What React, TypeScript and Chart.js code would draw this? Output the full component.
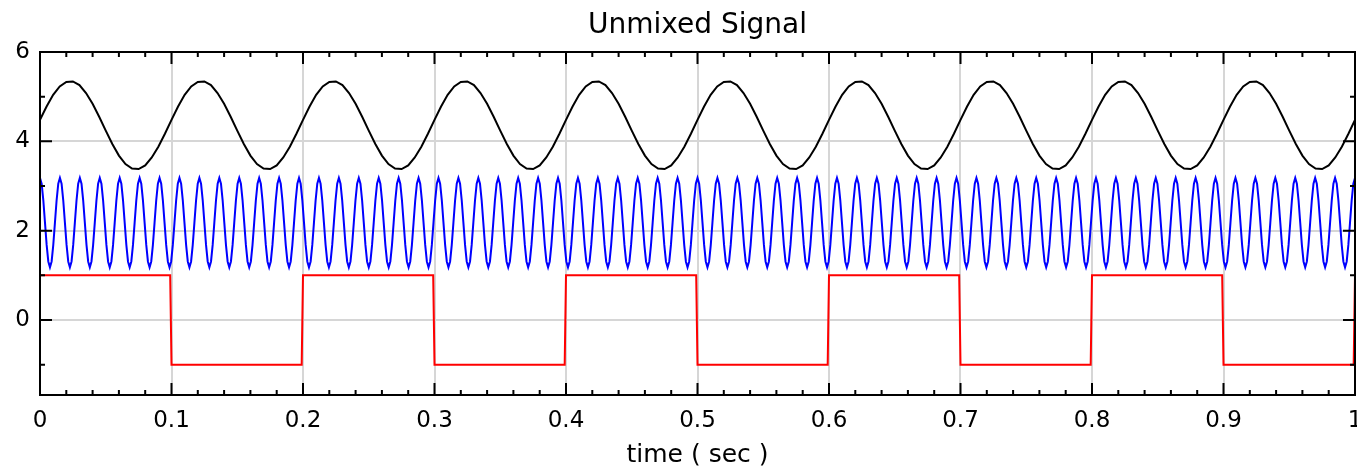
import React, { useEffect, useRef } from "react";
import { Chart, registerables } from "chart.js";

Chart.register(...registerables);

// ---------- text ----------
const chartTitle = "Unmixed Signal";
const xAxisTitle = "time ( sec )";

// ---------- axes ----------
const xMin = 0;
const xMax = 1;
const yMin = -1.68;
const yMax = 6;
const xTickValues = [0, 0.1, 0.2, 0.3, 0.4, 0.5, 0.6, 0.7, 0.8, 0.9, 1];
const xTickLabels = ["0", "0.1", "0.2", "0.3", "0.4", "0.5", "0.6", "0.7", "0.8", "0.9", "1"];
const xMinorPerMajor = 5;
const yTickValues = [0, 2, 4, 6];
const yTickLabels = ["0", "2", "4", "6"];
const yMinorTickValues = [-1, 1, 3, 5];

// ---------- series: black (slow sine), sample step in seconds ----------
const blackStep = 0.005;
const blackValues = [
  4.48, 4.78, 5.04, 5.23, 5.33, 5.34, 5.26, 5.08, 4.84, 4.55, 4.24, 3.94, 3.68, 3.49, 3.39, 3.38, 3.46, 3.64, 3.88, 4.17,
  4.48, 4.78, 5.04, 5.23, 5.33, 5.34, 5.26, 5.08, 4.84, 4.55, 4.24, 3.94, 3.68, 3.49, 3.39, 3.38, 3.46, 3.64, 3.88, 4.17,
  4.48, 4.78, 5.04, 5.23, 5.33, 5.34, 5.26, 5.08, 4.84, 4.55, 4.24, 3.94, 3.68, 3.49, 3.39, 3.38, 3.46, 3.64, 3.88, 4.17,
  4.48, 4.78, 5.04, 5.23, 5.33, 5.34, 5.26, 5.08, 4.84, 4.55, 4.24, 3.94, 3.68, 3.49, 3.39, 3.38, 3.46, 3.64, 3.88, 4.17,
  4.48, 4.78, 5.04, 5.23, 5.33, 5.34, 5.26, 5.08, 4.84, 4.55, 4.24, 3.94, 3.68, 3.49, 3.39, 3.38, 3.46, 3.64, 3.88, 4.17,
  4.48, 4.78, 5.04, 5.23, 5.33, 5.34, 5.26, 5.08, 4.84, 4.55, 4.24, 3.94, 3.68, 3.49, 3.39, 3.38, 3.46, 3.64, 3.88, 4.17,
  4.48, 4.78, 5.04, 5.23, 5.33, 5.34, 5.26, 5.08, 4.84, 4.55, 4.24, 3.94, 3.68, 3.49, 3.39, 3.38, 3.46, 3.64, 3.88, 4.17,
  4.48, 4.78, 5.04, 5.23, 5.33, 5.34, 5.26, 5.08, 4.84, 4.55, 4.24, 3.94, 3.68, 3.49, 3.39, 3.38, 3.46, 3.64, 3.88, 4.17,
  4.48, 4.78, 5.04, 5.23, 5.33, 5.34, 5.26, 5.08, 4.84, 4.55, 4.24, 3.94, 3.68, 3.49, 3.39, 3.38, 3.46, 3.64, 3.88, 4.17,
  4.48, 4.78, 5.04, 5.23, 5.33, 5.34, 5.26, 5.08, 4.84, 4.55, 4.24, 3.94, 3.68, 3.49, 3.39, 3.38, 3.46, 3.64, 3.88, 4.17,
  4.48,
];

// ---------- series: blue (fast sine, 66 Hz), sample step in seconds ----------
// 11 rows x 6 cycles x 12 samples + closing sample
const blueStep = 1 / 792;
const blueValues = [
  /* 1 */ 3.18, 3.05, 2.68, 2.18, 1.68, 1.31, 1.18, 1.31, 1.68, 2.18, 2.68, 3.05, 3.18, 3.05, 2.68, 2.18, 1.68, 1.31, 1.18, 1.31, 1.68, 2.18, 2.68, 3.05, 3.18, 3.05, 2.68, 2.18, 1.68, 1.31, 1.18, 1.31, 1.68, 2.18, 2.68, 3.05, 3.18, 3.05, 2.68, 2.18, 1.68, 1.31, 1.18, 1.31, 1.68, 2.18, 2.68, 3.05, 3.18, 3.05, 2.68, 2.18, 1.68, 1.31, 1.18, 1.31, 1.68, 2.18, 2.68, 3.05, 3.18, 3.05, 2.68, 2.18, 1.68, 1.31, 1.18, 1.31, 1.68, 2.18, 2.68, 3.05,
  /* 2 */ 3.18, 3.05, 2.68, 2.18, 1.68, 1.31, 1.18, 1.31, 1.68, 2.18, 2.68, 3.05, 3.18, 3.05, 2.68, 2.18, 1.68, 1.31, 1.18, 1.31, 1.68, 2.18, 2.68, 3.05, 3.18, 3.05, 2.68, 2.18, 1.68, 1.31, 1.18, 1.31, 1.68, 2.18, 2.68, 3.05, 3.18, 3.05, 2.68, 2.18, 1.68, 1.31, 1.18, 1.31, 1.68, 2.18, 2.68, 3.05, 3.18, 3.05, 2.68, 2.18, 1.68, 1.31, 1.18, 1.31, 1.68, 2.18, 2.68, 3.05, 3.18, 3.05, 2.68, 2.18, 1.68, 1.31, 1.18, 1.31, 1.68, 2.18, 2.68, 3.05,
  /* 3 */ 3.18, 3.05, 2.68, 2.18, 1.68, 1.31, 1.18, 1.31, 1.68, 2.18, 2.68, 3.05, 3.18, 3.05, 2.68, 2.18, 1.68, 1.31, 1.18, 1.31, 1.68, 2.18, 2.68, 3.05, 3.18, 3.05, 2.68, 2.18, 1.68, 1.31, 1.18, 1.31, 1.68, 2.18, 2.68, 3.05, 3.18, 3.05, 2.68, 2.18, 1.68, 1.31, 1.18, 1.31, 1.68, 2.18, 2.68, 3.05, 3.18, 3.05, 2.68, 2.18, 1.68, 1.31, 1.18, 1.31, 1.68, 2.18, 2.68, 3.05, 3.18, 3.05, 2.68, 2.18, 1.68, 1.31, 1.18, 1.31, 1.68, 2.18, 2.68, 3.05,
  /* 4 */ 3.18, 3.05, 2.68, 2.18, 1.68, 1.31, 1.18, 1.31, 1.68, 2.18, 2.68, 3.05, 3.18, 3.05, 2.68, 2.18, 1.68, 1.31, 1.18, 1.31, 1.68, 2.18, 2.68, 3.05, 3.18, 3.05, 2.68, 2.18, 1.68, 1.31, 1.18, 1.31, 1.68, 2.18, 2.68, 3.05, 3.18, 3.05, 2.68, 2.18, 1.68, 1.31, 1.18, 1.31, 1.68, 2.18, 2.68, 3.05, 3.18, 3.05, 2.68, 2.18, 1.68, 1.31, 1.18, 1.31, 1.68, 2.18, 2.68, 3.05, 3.18, 3.05, 2.68, 2.18, 1.68, 1.31, 1.18, 1.31, 1.68, 2.18, 2.68, 3.05,
  /* 5 */ 3.18, 3.05, 2.68, 2.18, 1.68, 1.31, 1.18, 1.31, 1.68, 2.18, 2.68, 3.05, 3.18, 3.05, 2.68, 2.18, 1.68, 1.31, 1.18, 1.31, 1.68, 2.18, 2.68, 3.05, 3.18, 3.05, 2.68, 2.18, 1.68, 1.31, 1.18, 1.31, 1.68, 2.18, 2.68, 3.05, 3.18, 3.05, 2.68, 2.18, 1.68, 1.31, 1.18, 1.31, 1.68, 2.18, 2.68, 3.05, 3.18, 3.05, 2.68, 2.18, 1.68, 1.31, 1.18, 1.31, 1.68, 2.18, 2.68, 3.05, 3.18, 3.05, 2.68, 2.18, 1.68, 1.31, 1.18, 1.31, 1.68, 2.18, 2.68, 3.05,
  /* 6 */ 3.18, 3.05, 2.68, 2.18, 1.68, 1.31, 1.18, 1.31, 1.68, 2.18, 2.68, 3.05, 3.18, 3.05, 2.68, 2.18, 1.68, 1.31, 1.18, 1.31, 1.68, 2.18, 2.68, 3.05, 3.18, 3.05, 2.68, 2.18, 1.68, 1.31, 1.18, 1.31, 1.68, 2.18, 2.68, 3.05, 3.18, 3.05, 2.68, 2.18, 1.68, 1.31, 1.18, 1.31, 1.68, 2.18, 2.68, 3.05, 3.18, 3.05, 2.68, 2.18, 1.68, 1.31, 1.18, 1.31, 1.68, 2.18, 2.68, 3.05, 3.18, 3.05, 2.68, 2.18, 1.68, 1.31, 1.18, 1.31, 1.68, 2.18, 2.68, 3.05,
  /* 7 */ 3.18, 3.05, 2.68, 2.18, 1.68, 1.31, 1.18, 1.31, 1.68, 2.18, 2.68, 3.05, 3.18, 3.05, 2.68, 2.18, 1.68, 1.31, 1.18, 1.31, 1.68, 2.18, 2.68, 3.05, 3.18, 3.05, 2.68, 2.18, 1.68, 1.31, 1.18, 1.31, 1.68, 2.18, 2.68, 3.05, 3.18, 3.05, 2.68, 2.18, 1.68, 1.31, 1.18, 1.31, 1.68, 2.18, 2.68, 3.05, 3.18, 3.05, 2.68, 2.18, 1.68, 1.31, 1.18, 1.31, 1.68, 2.18, 2.68, 3.05, 3.18, 3.05, 2.68, 2.18, 1.68, 1.31, 1.18, 1.31, 1.68, 2.18, 2.68, 3.05,
  /* 8 */ 3.18, 3.05, 2.68, 2.18, 1.68, 1.31, 1.18, 1.31, 1.68, 2.18, 2.68, 3.05, 3.18, 3.05, 2.68, 2.18, 1.68, 1.31, 1.18, 1.31, 1.68, 2.18, 2.68, 3.05, 3.18, 3.05, 2.68, 2.18, 1.68, 1.31, 1.18, 1.31, 1.68, 2.18, 2.68, 3.05, 3.18, 3.05, 2.68, 2.18, 1.68, 1.31, 1.18, 1.31, 1.68, 2.18, 2.68, 3.05, 3.18, 3.05, 2.68, 2.18, 1.68, 1.31, 1.18, 1.31, 1.68, 2.18, 2.68, 3.05, 3.18, 3.05, 2.68, 2.18, 1.68, 1.31, 1.18, 1.31, 1.68, 2.18, 2.68, 3.05,
  /* 9 */ 3.18, 3.05, 2.68, 2.18, 1.68, 1.31, 1.18, 1.31, 1.68, 2.18, 2.68, 3.05, 3.18, 3.05, 2.68, 2.18, 1.68, 1.31, 1.18, 1.31, 1.68, 2.18, 2.68, 3.05, 3.18, 3.05, 2.68, 2.18, 1.68, 1.31, 1.18, 1.31, 1.68, 2.18, 2.68, 3.05, 3.18, 3.05, 2.68, 2.18, 1.68, 1.31, 1.18, 1.31, 1.68, 2.18, 2.68, 3.05, 3.18, 3.05, 2.68, 2.18, 1.68, 1.31, 1.18, 1.31, 1.68, 2.18, 2.68, 3.05, 3.18, 3.05, 2.68, 2.18, 1.68, 1.31, 1.18, 1.31, 1.68, 2.18, 2.68, 3.05,
  /* 10 */ 3.18, 3.05, 2.68, 2.18, 1.68, 1.31, 1.18, 1.31, 1.68, 2.18, 2.68, 3.05, 3.18, 3.05, 2.68, 2.18, 1.68, 1.31, 1.18, 1.31, 1.68, 2.18, 2.68, 3.05, 3.18, 3.05, 2.68, 2.18, 1.68, 1.31, 1.18, 1.31, 1.68, 2.18, 2.68, 3.05, 3.18, 3.05, 2.68, 2.18, 1.68, 1.31, 1.18, 1.31, 1.68, 2.18, 2.68, 3.05, 3.18, 3.05, 2.68, 2.18, 1.68, 1.31, 1.18, 1.31, 1.68, 2.18, 2.68, 3.05, 3.18, 3.05, 2.68, 2.18, 1.68, 1.31, 1.18, 1.31, 1.68, 2.18, 2.68, 3.05,
  /* 11 */ 3.18, 3.05, 2.68, 2.18, 1.68, 1.31, 1.18, 1.31, 1.68, 2.18, 2.68, 3.05, 3.18, 3.05, 2.68, 2.18, 1.68, 1.31, 1.18, 1.31, 1.68, 2.18, 2.68, 3.05, 3.18, 3.05, 2.68, 2.18, 1.68, 1.31, 1.18, 1.31, 1.68, 2.18, 2.68, 3.05, 3.18, 3.05, 2.68, 2.18, 1.68, 1.31, 1.18, 1.31, 1.68, 2.18, 2.68, 3.05, 3.18, 3.05, 2.68, 2.18, 1.68, 1.31, 1.18, 1.31, 1.68, 2.18, 2.68, 3.05, 3.18, 3.05, 2.68, 2.18, 1.68, 1.31, 1.18, 1.31, 1.68, 2.18, 2.68, 3.05,
  3.18,
];

// ---------- series: red (square wave), one level per 0.1 s segment ----------
const redSegment = 0.1;
const redEdge = 0.001;
const redLevels = [1, -1, 1, -1, 1, -1, 1, -1, 1, -1, 1];

// ---------- styles ----------
const blackColor = "#000000";
const blueColor = "#0000ff";
const redColor = "#ff0000";
const gridColor = "#d6d6d6";
const fontFamily = "'DejaVu Sans', sans-serif";

const toPoints = (values: number[], step: number) =>
  values.map((v, i) => ({ x: i * step, y: v }));

const redPoints = (() => {
  const pts: { x: number; y: number }[] = [];
  redLevels.forEach((lvl, k) => {
    if (k > 0) pts.push({ x: k * redSegment - redEdge, y: redLevels[k - 1] });
    pts.push({ x: k * redSegment, y: lvl });
  });
  return pts;
})();

const framePlugin = {
  id: "frameTicks",
  afterDatasetsDraw(chart: any) {
    const { ctx, chartArea, scales } = chart;
    const { left, right, top, bottom } = chartArea;
    const x = scales.x;
    const y = scales.y;
    const majorLen = 12;
    const minorLen = 5;
    ctx.save();
    ctx.strokeStyle = "#000";
    ctx.lineWidth = 2;
    ctx.beginPath();
    xTickValues.forEach((v) => {
      const px = x.getPixelForValue(v);
      ctx.moveTo(px, bottom);
      ctx.lineTo(px, bottom - majorLen);
      ctx.moveTo(px, top);
      ctx.lineTo(px, top + majorLen);
    });
    for (let i = 0; i < xTickValues.length - 1; i++) {
      const a = xTickValues[i];
      const b = xTickValues[i + 1];
      for (let j = 1; j < xMinorPerMajor; j++) {
        const px = x.getPixelForValue(a + ((b - a) * j) / xMinorPerMajor);
        ctx.moveTo(px, bottom);
        ctx.lineTo(px, bottom - minorLen);
        ctx.moveTo(px, top);
        ctx.lineTo(px, top + minorLen);
      }
    }
    yTickValues.forEach((v) => {
      const py = y.getPixelForValue(v);
      ctx.moveTo(left, py);
      ctx.lineTo(left + majorLen, py);
      ctx.moveTo(right, py);
      ctx.lineTo(right - majorLen, py);
    });
    yMinorTickValues.forEach((v) => {
      const py = y.getPixelForValue(v);
      ctx.moveTo(left, py);
      ctx.lineTo(left + minorLen, py);
      ctx.moveTo(right, py);
      ctx.lineTo(right - minorLen, py);
    });
    ctx.stroke();
    ctx.strokeRect(left, top, right - left, bottom - top);
    ctx.restore();
  },
};

export default function App() {
  const canvasRef = useRef<HTMLCanvasElement | null>(null);

  useEffect(() => {
    document.body.style.margin = "0";
    const canvas = canvasRef.current;
    if (!canvas) return;
    const chart = new Chart(canvas, {
      type: "line",
      data: {
        datasets: [
          {
            label: "black",
            data: toPoints(blackValues, blackStep),
            borderColor: blackColor,
            borderWidth: 2,
            pointRadius: 0,
            tension: 0,
          },
          {
            label: "blue",
            data: toPoints(blueValues, blueStep),
            borderColor: blueColor,
            borderWidth: 2,
            pointRadius: 0,
            tension: 0,
          },
          {
            label: "red",
            data: redPoints,
            borderColor: redColor,
            borderWidth: 2,
            pointRadius: 0,
            tension: 0,
          },
        ],
      },
      options: {
        animation: false,
        responsive: false,
        devicePixelRatio: 1,
        layout: { padding: { left: 0, right: 2, top: 0, bottom: 0 } },
        font: { family: fontFamily },
        plugins: {
          legend: { display: false },
          title: { display: false },
          tooltip: { enabled: false },
        },
        scales: {
          x: {
            type: "linear",
            position: "bottom",
            min: xMin,
            max: xMax,
            afterBuildTicks: (s: any) => {
              s.ticks = xTickValues.map((v) => ({ value: v }));
            },
            afterFit: (s: any) => {
              s.height = 75;
              s.paddingLeft = 0;
              s.paddingRight = 0;
            },
            ticks: {
              autoSkip: false,
              maxRotation: 0,
              padding: 12,
              color: "#000",
              font: { family: fontFamily, size: 23 },
              callback: (_v: any, i: number) => xTickLabels[i],
            },
            grid: { color: gridColor, lineWidth: 2, drawTicks: false },
            border: { display: false },
            title: {
              display: true,
              text: xAxisTitle,
              color: "#000",
              font: { family: fontFamily, size: 25 },
              padding: { top: 0, bottom: 0 },
            },
          },
          xTop: {
            type: "linear",
            position: "top",
            min: xMin,
            max: xMax,
            ticks: { display: false },
            grid: { display: false, drawTicks: false },
            border: { display: false },
            afterFit: (s: any) => {
              s.height = 52;
              s.paddingLeft = 0;
              s.paddingRight = 0;
            },
            title: {
              display: true,
              text: chartTitle,
              color: "#000",
              font: { family: fontFamily, size: 28 },
              padding: { top: 9, bottom: 0 },
            },
          },
          y: {
            type: "linear",
            min: yMin,
            max: yMax,
            afterBuildTicks: (s: any) => {
              s.ticks = yTickValues.map((v) => ({ value: v }));
            },
            afterFit: (s: any) => {
              s.width = 40;
              s.paddingTop = 0;
              s.paddingBottom = 0;
            },
            ticks: {
              padding: 10,
              color: "#000",
              font: { family: fontFamily, size: 23 },
              callback: (_v: any, i: number) => yTickLabels[i],
            },
            grid: { color: gridColor, lineWidth: 2, drawTicks: false },
            border: { display: false },
          },
        },
      } as any,
      plugins: [framePlugin],
    });
    return () => chart.destroy();
  }, []);

  return (
    <canvas
      ref={canvasRef}
      width={1357}
      height={470}
      style={{ display: "block", width: 1357, height: 470 }}
    />
  );
}
